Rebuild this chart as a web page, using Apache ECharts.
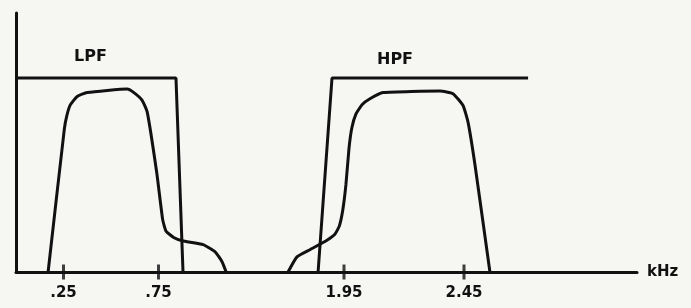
<!DOCTYPE html>
<html>
<head>
<meta charset="utf-8">
<script src="https://cdn.jsdelivr.net/npm/echarts@6/dist/echarts.min.js"></script>
<style>
  html, body { margin: 0; padding: 0; background: #f6f6f3; }
  #chart { width: 691px; height: 308px; }
</style>
</head>
<body>
<div id="chart"></div>
<script>
// frequencies in kHz, gain relative to the filter box level (1 = box top)
const lpfFreq = [0.169, 0.254, 0.266, 0.285, 0.322, 0.375, 0.585, 0.617, 0.664, 0.691, 0.741, 0.772, 0.79, 0.83, 0.875, 0.985, 1.048, 1.085, 1.106];
const lpfGain = [0, 0.734, 0.8, 0.86, 0.905, 0.925, 0.943, 0.927, 0.885, 0.823, 0.51, 0.27, 0.21, 0.178, 0.161, 0.141, 0.104, 0.052, 0];

const hpfFreq = [1.717, 1.754, 1.808, 1.879, 1.912, 1.93, 1.945, 1.958, 1.971, 1.983, 2.0, 2.025, 2.058, 2.113, 2.350, 2.404, 2.446, 2.467, 2.496, 2.558];
const hpfGain = [0, 0.078, 0.115, 0.164, 0.195, 0.235, 0.32, 0.45, 0.64, 0.745, 0.815, 0.862, 0.893, 0.925, 0.933, 0.919, 0.858, 0.771, 0.55, 0];

const lpfBoxFreq = [0, 0.842, 0.879];
const lpfBoxGain = [1, 1, 0];
const hpfBoxFreq = [1.842, 1.9, 2.717];
const hpfBoxGain = [0, 1, 1];

const leftTicks = [0.25, 0.75];
const rightTicks = [1.95, 2.45];
const tickValues = [0.25, 0.75, 1.95, 2.45];
const tickLabels = ['.25', '.75', '1.95', '2.45'];

const ink = '#111';
const zip = (a, b) => a.map((v, i) => [v, b[i]]);
const tickText = v => {
  const i = tickValues.findIndex(t => Math.abs(t - v) < 1e-6);
  return i < 0 ? '' : tickLabels[i];
};

const chart = echarts.init(document.getElementById('chart'));

const axisLine = { lineStyle: { color: ink, width: 3 } };
const labelStyle = { color: ink, fontSize: 15, fontWeight: 'bold', fontFamily: 'DejaVu Sans', margin: 14, formatter: tickText };

const lineSeries = (data, xi, smooth) => ({
  type: 'line', data: data, xAxisIndex: xi, yAxisIndex: xi,
  showSymbol: false, smooth: smooth, clip: false, silent: true,
  lineStyle: { color: ink, width: 3 }
});
const tickSeries = (vals, xi) => ({
  type: 'scatter', data: vals.map(v => [v, 0]), xAxisIndex: xi, yAxisIndex: xi,
  symbol: 'rect', symbolSize: [3, 15], clip: false, silent: true,
  itemStyle: { color: ink }
});

chart.setOption({
  backgroundColor: '#f6f6f3',
  animation: false,
  grid: [
    { left: 16, width: 238, top: 13, bottom: 36 },
    { left: 254, width: 383, top: 13, bottom: 36 }
  ],
  xAxis: [
    {
      type: 'value', gridIndex: 0, min: 0, max: 238 / 190,
      axisLine: axisLine, splitLine: { show: false },
      axisTick: { show: false },
      axisLabel: Object.assign({ customValues: leftTicks }, labelStyle)
    },
    {
      type: 'value', gridIndex: 1, min: 1.95 - 90 / 240, max: 1.95 + 293 / 240,
      axisLine: axisLine, splitLine: { show: false },
      axisTick: { show: false },
      axisLabel: Object.assign({ customValues: rightTicks }, labelStyle),
      name: 'kHz', nameLocation: 'end', nameGap: 10,
      nameTextStyle: { color: ink, fontSize: 15, fontWeight: 'bold', fontFamily: 'DejaVu Sans', padding: [8, 0, 0, 0] }
    }
  ],
  yAxis: [
    {
      type: 'value', gridIndex: 0, min: 0, max: 1.335,
      axisLine: { show: true, lineStyle: { color: ink, width: 3 } },
      axisTick: { show: false }, axisLabel: { show: false }, splitLine: { show: false }
    },
    {
      type: 'value', gridIndex: 1, min: 0, max: 1.335, show: false
    }
  ],
  graphic: [
    { type: 'text', left: 74, top: 49, style: { text: 'LPF', fill: ink, font: 'bold 16px "DejaVu Sans"' } },
    { type: 'text', left: 377, top: 52, style: { text: 'HPF', fill: ink, font: 'bold 16px "DejaVu Sans"' } }
  ],
  series: [
    lineSeries(zip(lpfBoxFreq, lpfBoxGain), 0, false),
    lineSeries(zip(lpfFreq, lpfGain), 0, 0.15),
    lineSeries(zip(hpfBoxFreq, hpfBoxGain), 1, false),
    lineSeries(zip(hpfFreq, hpfGain), 1, 0.15),
    tickSeries(leftTicks, 0),
    tickSeries(rightTicks, 1)
  ]
});
</script>
</body>
</html>
